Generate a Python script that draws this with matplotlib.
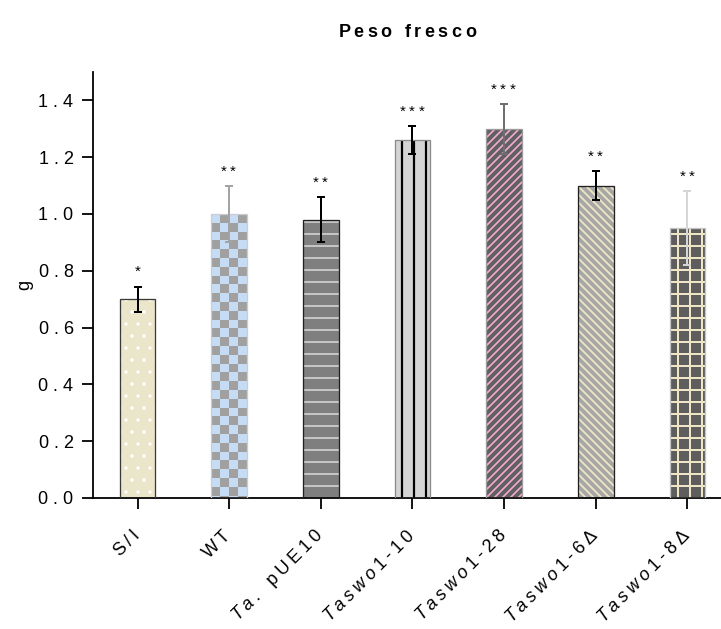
import numpy as np
import matplotlib
matplotlib.use('Agg')
import matplotlib.pyplot as plt
from matplotlib.colors import ListedColormap

plt.rcParams['font.family'] = ['Liberation Sans', 'DejaVu Sans']
plt.rcParams['mathtext.fontset'] = 'custom'
plt.rcParams['mathtext.rm'] = 'Liberation Sans'
plt.rcParams['mathtext.it'] = 'Liberation Sans:italic'
plt.rcParams['hatch.linewidth'] = 2.0


def spaced(segs, gap):
    # segs: text or list of (text, italic); letters get extra tracking
    if isinstance(segs, str):
        segs = [(segs, False)]
    parts = []
    for text, it in segs:
        for c in text:
            parts.append('$\\mathit{%s}$' % c if it else c)
    out = ('$\\hspace{%.2f}$' % gap).join(parts)
    return out.replace('$$', '')


# fresh weight per line (g), mean and error
lines = ['S/I', 'WT', 'Ta. pUE10', 'Taswo1-10', 'Taswo1-28', 'Taswo1-6Δ', 'Taswo1-8Δ']
mean = [0.70, 1.00, 0.98, 1.26, 1.30, 1.10, 0.95]
err = [0.044, 0.10, 0.08, 0.05, 0.087, 0.052, 0.13]
stars = ['*', '**', '**', '***', '***', '**', '**']
yticks = [0.0, 0.2, 0.4, 0.6, 0.8, 1.0, 1.2, 1.4]

label_segs = [
    [('S/I', False)],
    [('WT', False)],
    [('Ta.', True), (' pUE10', False)],
    [('Taswo1', True), ('-10', False)],
    [('Taswo1', True), ('-28', False)],
    [('Taswo1', True), ('-6Δ', False)],
    [('Taswo1', True), ('-8Δ', False)],
]

face = ['#ebe5c9', '#c6dcf5', '#7f7f7f', '#d4d4d4', '#606060', '#a7a7a7', '#5e5e5e']
hatches = ['.', None, '-', '|', '///', '\\\\\\', '+']
hatch_col = ['white', None, '#d6d6d6', 'black', '#f2a9d2', '#f0e6c3', '#efe6c6']
hatch_lw = [1.0, None, 1.6, 2.2, 1.7, 1.8, 2.0]
edges = ['#3a3a3a', '#c9ccd2', '#202020', '#8c8c8c', '#9a9a9a', '#202020', '#c4c4c4']
err_col = ['black', '#a3a3a3', 'black', 'black', '#6f6f6f', 'black', '#d6d6d6']
checker = ['#c6dcf5', '#a0a0a0']

x = np.arange(len(lines))
w = 0.39

fig = plt.figure(figsize=(721 / 72, 629 / 72), dpi=72)
ax = fig.add_axes([93 / 721, 131 / 629, 640 / 721, 426 / 629])

base = ax.bar(x, mean, w, color=face, edgecolor='none', zorder=1)
for i in range(len(x)):
    if hatches[i]:
        with plt.rc_context({'hatch.linewidth': hatch_lw[i]}):
            hb = ax.bar(x[i], mean[i], w, facecolor='none', edgecolor=hatch_col[i],
                        hatch=hatches[i], linewidth=0, zorder=2)
        for p in hb:
            if hasattr(p, 'set_hatch_linewidth'):
                p.set_hatch_linewidth(hatch_lw[i])

# checkerboard fill for WT
i = 1
cell = 0.031
nrow = int(np.ceil(mean[i] / cell))
board = np.add.outer(np.arange(nrow), np.arange(4)) % 2
im = ax.imshow(board, cmap=ListedColormap(checker), interpolation='nearest',
               extent=(x[i] - w / 2, x[i] + w / 2, mean[i] - nrow * cell, mean[i]),
               origin='upper', aspect='auto', zorder=2)
im.set_clip_path(base[i])

ax.bar(x, mean, w, facecolor='none', edgecolor=edges, linewidth=1.3, zorder=3)

for i in range(len(x)):
    ax.errorbar(x[i], mean[i], yerr=err[i], fmt='none', ecolor=err_col[i],
                elinewidth=2, capsize=4, capthick=2, zorder=4)
    ax.annotate(spaced(stars[i], 0.33), (x[i], mean[i] + err[i]), xytext=(0, 8),
                textcoords='offset points', ha='center', va='bottom', fontsize=15)

ax.set_xlim(-0.486, 6.497)
ax.set_ylim(0, 1.5)
ax.set_yticks(yticks)
ax.set_yticklabels([spaced(f'{v:.1f}', 0.34) for v in yticks])
ax.set_xticks(x)
ax.set_xticklabels([spaced(s, 0.26) for s in label_segs], rotation=45, ha='right',
                   va='center', rotation_mode='anchor')

for s in ['top', 'right']:
    ax.spines[s].set_visible(False)
for s in ['left', 'bottom']:
    ax.spines[s].set_linewidth(1.8)
ax.tick_params(length=11, width=1.8, labelsize=18)
ax.tick_params(axis='y', pad=8)
ax.tick_params(axis='x', pad=24)

ax.set_ylabel('g', fontsize=18)
ax.yaxis.set_label_coords(-0.094, 0.5)
ax.set_title(spaced('Peso fresco', 0.24), fontsize=18, fontweight='bold', pad=35,
             x=0.491)

fig.savefig('out.png', dpi=72)
